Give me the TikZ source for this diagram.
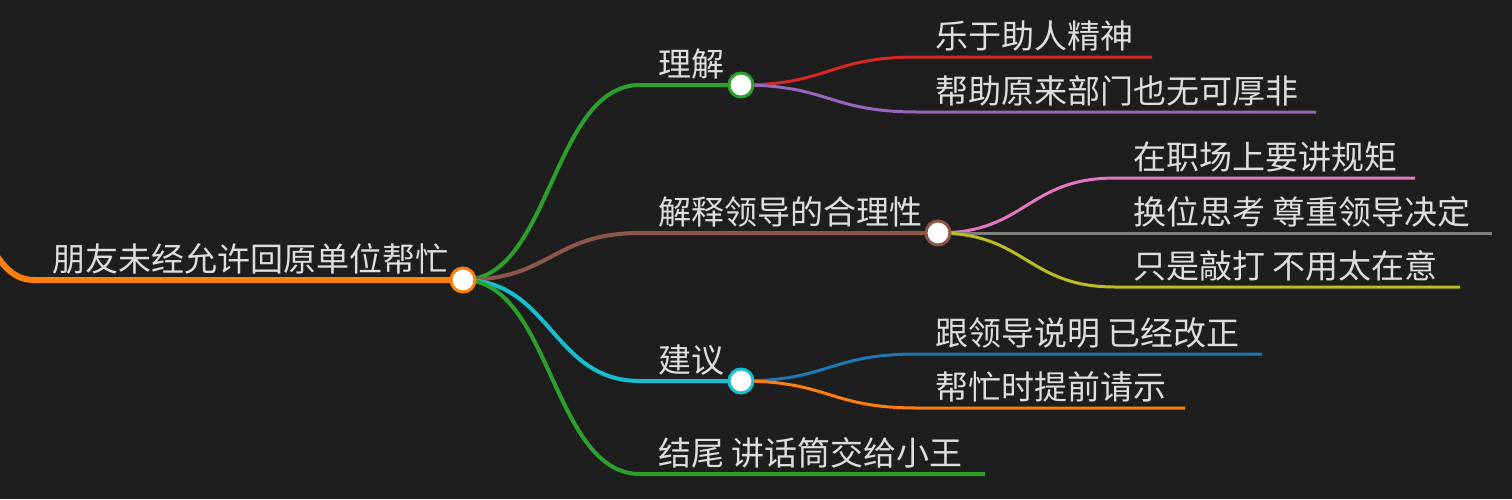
\documentclass[tikz,border=0pt]{standalone}
\usepackage{fontspec}
\setmainfont{Noto Sans CJK SC}
\definecolor{fond}{HTML}{1E1E1E}
\definecolor{txt}{HTML}{DEDEDE}
\definecolor{vert}{HTML}{2CA02C}
\definecolor{rouge}{HTML}{D62728}
\definecolor{violet}{HTML}{9467BD}
\definecolor{brun}{HTML}{8C564B}
\definecolor{rose}{HTML}{E377C2}
\definecolor{gris}{HTML}{7F7F7F}
\definecolor{olive}{HTML}{BCBD22}
\definecolor{cyan}{HTML}{17BECF}
\definecolor{bleu}{HTML}{1F77B4}
\definecolor{orange}{HTML}{FF7F0E}
\tikzset{
  texte/.style={anchor=base west, inner sep=0pt, text=txt, font=\fontsize{33}{33}\selectfont},
  rond/.style={circle, fill=white, minimum size=24pt, inner sep=0pt, line width=3pt},
  lien/.style={line width=4pt},
  feuille/.style={line width=3pt},
}

\begin{document}
\begin{tikzpicture}[x=1pt, y=-1pt]
        \fill[fond] (0,0) rectangle (1512,499);
        \useasboundingbox (0,0) rectangle (1512,499);
        \clip (0,0) rectangle (1512,499);

        % Points des cercles
        \coordinate (r) at (463,280);
        \coordinate (c1) at (741,85);
        \coordinate (c2) at (938,233);
        \coordinate (c3) at (741,381);

        % Racine
        \coordinate (amont) at (-60,200);
        \coordinate (r0) at (34,280);
        \node[texte] (tr) at (52,271.5) {朋友未经允许回原单位帮忙};
        \draw[orange, line width=6pt] (amont) .. controls +(47,0) and +(-47,0) .. (r0) -- (r);

        % Branches de premier niveau
        \coordinate (a0) at (640,85);
        \coordinate (b0) at (640,233);
        \coordinate (d0) at (640,381);
        \coordinate (e0) at (640,474);
        \coordinate (e1) at (985,474);
        \node[texte] (ta) at (658,76.5) {理解};
        \node[texte] (tb) at (658,224.5) {解释领导的合理性};
        \node[texte] (td) at (658,372.5) {建议};
        \node[texte] (te) at (658,465.5) {结尾 讲话筒交给小王};
        \draw[vert, lien] (r) .. controls +(88,0) and +(-88,0) .. (a0) -- (c1);
        \draw[brun, lien] (r) .. controls +(88,0) and +(-88,0) .. (b0) -- (c2);
        \draw[cyan, lien] (r) .. controls +(88,0) and +(-88,0) .. (d0) -- (c3);
        \draw[vert, lien] (r) .. controls +(88,0) and +(-88,0) .. (e0) -- (e1);

        % Sous-branches de "理解"
        \coordinate (a10) at (917,57);
        \coordinate (a11) at (1152,57);
        \coordinate (a20) at (917,112);
        \coordinate (a21) at (1316,112);
        \node[texte] (ta1) at (935,48.5) {乐于助人精神};
        \node[texte] (ta2) at (935,103.5) {帮助原来部门也无可厚非};
        \draw[rouge, feuille] (c1) .. controls +(88,0) and +(-88,0) .. (a10) -- (a11);
        \draw[violet, feuille] (c1) .. controls +(88,0) and +(-88,0) .. (a20) -- (a21);

        % Sous-branches de "解释领导的合理性"
        \coordinate (b10) at (1115,178);
        \coordinate (b11) at (1415,178);
        \coordinate (b20) at (1115,233);
        \coordinate (b21) at (1492,233);
        \coordinate (b30) at (1115,287);
        \coordinate (b31) at (1460,287);
        \node[texte] (tb1) at (1133,169.5) {在职场上要讲规矩};
        \node[texte] (tb2) at (1133,224.5) {换位思考 尊重领导决定};
        \node[texte] (tb3) at (1133,278.5) {只是敲打 不用太在意};
        \draw[rose, feuille] (c2) .. controls +(88,0) and +(-88,0) .. (b10) -- (b11);
        \draw[gris, feuille] (c2) -- (b20) -- (b21);
        \draw[olive, feuille] (c2) .. controls +(88,0) and +(-88,0) .. (b30) -- (b31);

        % Sous-branches de "建议"
        \coordinate (d10) at (917,354);
        \coordinate (d11) at (1262,354);
        \coordinate (d20) at (917,408);
        \coordinate (d21) at (1185,408);
        \node[texte] (td1) at (935,345.5) {跟领导说明 已经改正};
        \node[texte] (td2) at (935,399.5) {帮忙时提前请示};
        \draw[bleu, feuille] (c3) .. controls +(88,0) and +(-88,0) .. (d10) -- (d11);
        \draw[orange, feuille] (c3) .. controls +(88,0) and +(-88,0) .. (d20) -- (d21);

        % Cercles par-dessus les liens
        \node[rond, draw=orange] (nr) at (r) {};
        \node[rond, draw=vert] (n1) at (c1) {};
        \node[rond, draw=brun] (n2) at (c2) {};
        \node[rond, draw=cyan] (n3) at (c3) {};
\end{tikzpicture}
\end{document}
